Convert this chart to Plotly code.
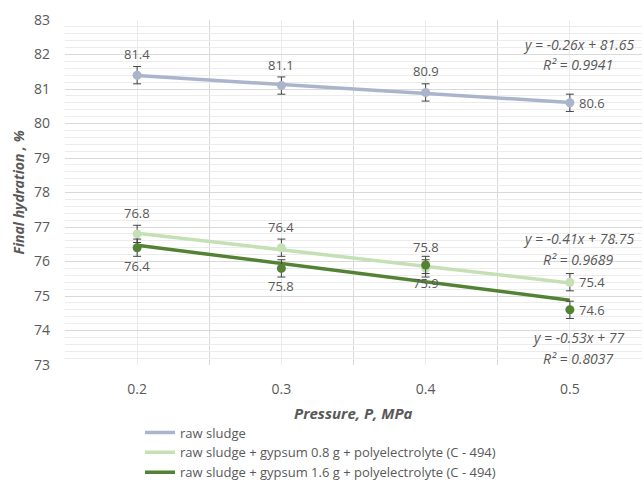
import numpy as np
import plotly.graph_objects as go

pressure = [0.2, 0.3, 0.4, 0.5]
tick_labels = ["0.2", "0.3", "0.4", "0.5"]
raw = [81.4, 81.1, 80.9, 80.6]
gyp08 = [76.8, 76.4, 75.8, 75.4]
gyp16 = [76.4, 75.8, 75.9, 74.6]
err = [0.25, 0.25, 0.25, 0.25]

names = ["raw sludge",
         "raw sludge + gypsum 0.8 g + polyelectrolyte (C - 494)",
         "raw sludge + gypsum 1.6 g + polyelectrolyte (C - 494)"]
colors = ["#AAB5CC", "#C5E0B4", "#548235"]
series = [raw, gyp08, gyp16]
equations = [("y = -0.26x + 81.65", "R² = 0.9941"),
             ("y = -0.41x + 78.75", "R² = 0.9689"),
             ("y = -0.53x + 77", "R² = 0.8037")]
# label placement per point: 'a' above, 'b' below, 'r' right
label_pos = [["a", "a", "a", "r"], ["a", "a", "a", "r"], ["b", "b", "b", "r"]]

fig = go.Figure()
font = "Open Sans, Lato, sans-serif"
gray = "#595959"

for s, c, n in zip(series, colors, names):
    coef = np.polyfit(pressure, s, 1)
    xs = np.array([pressure[0], pressure[-1]])
    fig.add_trace(go.Scatter(x=xs, y=np.polyval(coef, xs), mode="lines",
                             line=dict(color=c, width=3.5), name=n))
for s, c in zip(series, colors):
    fig.add_trace(go.Scatter(x=pressure, y=s, mode="markers", showlegend=False,
                             marker=dict(color=c, size=9),
                             error_y=dict(type="data", array=err, color="#404040",
                                          thickness=1, width=4)))

annotations = []
for s, lp in zip(series, label_pos):
    for x, y, p in zip(pressure, s, lp):
        if p == "a":
            annotations.append(dict(x=x, y=y, text=f"{y:.1f}", showarrow=False,
                                    yshift=21, font=dict(size=13, color=gray, family=font)))
        elif p == "b":
            annotations.append(dict(x=x, y=y, text=f"{y:.1f}", showarrow=False,
                                    yshift=-18, font=dict(size=13, color=gray, family=font)))
        else:
            annotations.append(dict(x=x, y=y, text=f"{y:.1f}", showarrow=False,
                                    xshift=22, font=dict(size=13, color=gray, family=font)))

eq_y = [(45, 66), (245, 266), (347, 368)]
for (e1, e2), (y1, y2) in zip(equations, eq_y):
    for t, yp in ((e1, y1), (e2, y2)):
        annotations.append(dict(xref="paper", yref="paper", x=(578 - 65) / 577,
                                y=(375 - yp) / 355, text=f"<i>{t}</i>", showarrow=False,
                                xanchor="center", yanchor="middle",
                                font=dict(size=14, color=gray, family=font)))

annotations.append(dict(xref="paper", yref="paper", x=-47 / 577, y=0.5,
                        text="<b><i>Final hydration , %</i></b>", textangle=-90,
                        showarrow=False, xanchor="center", yanchor="middle",
                        font=dict(size=14, color=gray, family=font)))
annotations.append(dict(xref="paper", yref="paper", x=0.5, y=(375 - 424) / 355,
                        text="<b><i>Pressure, P, MPa</i></b>",
                        showarrow=False, xanchor="center", yanchor="middle",
                        font=dict(size=15, color=gray, family=font)))

fig.update_layout(
    width=644, height=489,
    margin=dict(l=65, r=2, t=20, b=114),
    paper_bgcolor="white", plot_bgcolor="white",
    font=dict(family=font, color=gray, size=13),
    annotations=annotations,
    legend=dict(x=(140 - 65) / 577, y=(375 - 429) / 355, xanchor="left", yanchor="top",
                font=dict(size=13, color=gray, family=font),
                bgcolor="rgba(0,0,0,0)", tracegroupgap=0, itemwidth=30),
    xaxis=dict(range=[0.15, 0.55], tickvals=pressure, ticktext=tick_labels,
               showgrid=True, gridcolor="#EBEBEB", gridwidth=1,
               zeroline=False, showline=False, ticks="", ticklabelstandoff=14,
               tickfont=dict(size=14, color=gray, family=font),
               minor=dict(tick0=0.15, dtick=0.1, showgrid=True, gridcolor="#D9D9D9",
                          gridwidth=1)),
    yaxis=dict(range=[73, 83], dtick=1, showgrid=True, gridcolor="#D9D9D9",
               zeroline=False, showline=False, ticks="", ticklabelstandoff=14,
               tickfont=dict(size=14, color=gray, family=font),
               minor=dict(dtick=0.2, showgrid=True, gridcolor="#ECECEC", gridwidth=1)),
)

fig.write_html("out.html")
